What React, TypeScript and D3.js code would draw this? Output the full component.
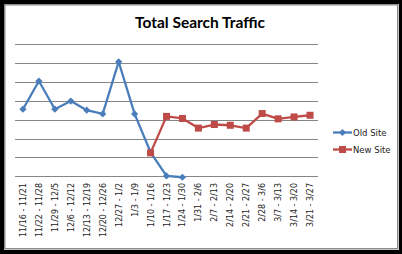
import React from "react";
import * as d3 from "d3";

const categories = [
  "11/16 - 11/21", "11/22 - 11/28", "11/29 - 12/5", "12/6 - 12/12", "12/13 - 12/19",
  "12/20 - 12/26", "12/27 - 1/2", "1/3 - 1/9", "1/10 - 1/16", "1/17 - 1/23",
  "1/24 - 1/30", "1/31 - 2/6", "2/7 - 2/13", "2/14 - 2/20", "2/21 - 2/27",
  "2/28 - 3/6", "3/7 - 3/13", "3/14 - 3/20", "3/21 - 3/27",
];
const oldSite: (number | null)[] = [3.55, 5.04, 3.55, 3.98, 3.5, 3.3, 6.06, 3.3, 1.27, 0.02, -0.05,
  null, null, null, null, null, null, null, null];
const newSite: (number | null)[] = [null, null, null, null, null, null, null, null, 1.24, 3.17, 3.06,
  2.55, 2.74, 2.7, 2.55, 3.32, 3.04, 3.14, 3.23];
const gridTicks = [0, 1, 2, 3, 4, 5, 6, 7];
const seriesNames = ["Old Site", "New Site"];

const W = 402, H = 254;
const BLUE = "#4A7EBB", RED = "#BE4B48";

export default function App() {
  const x = d3.scaleBand().domain(categories).range([15, 318]);
  const y = d3.scaleLinear().domain([0, 7]).range([176.3, 44]);
  const cx = (c: string) => (x(c) ?? 0) + x.bandwidth() / 2;
  const line = d3.line<[string, number | null]>()
    .defined((d) => d[1] !== null)
    .x((d) => cx(d[0]))
    .y((d) => y(d[1] as number));
  const oldPts = categories.map((c, i) => [c, oldSite[i]] as [string, number | null]);
  const newPts = categories.map((c, i) => [c, newSite[i]] as [string, number | null]);
  const diamond = (px: number, py: number, r = 3.6) =>
    `M${px},${py - r}L${px + r},${py}L${px},${py + r}L${px - r},${py}Z`;
  return (
    <svg width={W} height={H} style={{ position: "absolute", left: 0, top: 0 }}>
      <rect x={0} y={0} width={W} height={H} fill="#000" />
      <rect x={4} y={4} width={395} height={246} fill="#fff" />
      <rect x={4.75} y={4.75} width={393} height={244} fill="none" stroke="#8c8c8c" strokeWidth={1.5} />
      <text x={200} y={28} textAnchor="middle" fontFamily="Lato, 'Open Sans', sans-serif" fontWeight="bold" fontSize={15.5} fill="#000">
        Total Search Traffic
      </text>
      {gridTicks.map((t) => (
        <line key={t} x1={15} x2={318} y1={Math.round(y(t)) + 0.5} y2={Math.round(y(t)) + 0.5} stroke="#868686" strokeWidth={1} />
      ))}
      {categories.map((c) => (
        <text key={c} transform={`translate(${cx(c) + 3},183) rotate(-90)`} textAnchor="end"
          fontFamily="'DejaVu Sans', sans-serif" fontSize={8} fill="#222">
          {c}
        </text>
      ))}
      <path d={line(oldPts) ?? ""} fill="none" stroke={BLUE} strokeWidth={2.3} strokeLinejoin="round" />
      <path d={line(newPts) ?? ""} fill="none" stroke={RED} strokeWidth={2.3} strokeLinejoin="round" />
      {oldPts.filter((d) => d[1] !== null).map((d) => (
        <path key={"o" + d[0]} d={diamond(cx(d[0]), y(d[1] as number))} fill={BLUE} />
      ))}
      {newPts.filter((d) => d[1] !== null).map((d) => (
        <rect key={"n" + d[0]} x={cx(d[0]) - 3.5} y={y(d[1] as number) - 3.5} width={7} height={7} fill={RED} />
      ))}
      <g>
        <line x1={333} x2={352} y1={132.5} y2={132.5} stroke={BLUE} strokeWidth={2.3} />
        <path d={diamond(342.5, 132.5)} fill={BLUE} />
        <text x={353} y={135.5} fontFamily="'DejaVu Sans', sans-serif" fontSize={8.5} fill="#222">{seriesNames[0]}</text>
        <line x1={333} x2={352} y1={149.5} y2={149.5} stroke={RED} strokeWidth={2.3} />
        <rect x={339} y={146} width={7} height={7} fill={RED} />
        <text x={353} y={152.5} fontFamily="'DejaVu Sans', sans-serif" fontSize={8.5} fill="#222">{seriesNames[1]}</text>
      </g>
    </svg>
  );
}
